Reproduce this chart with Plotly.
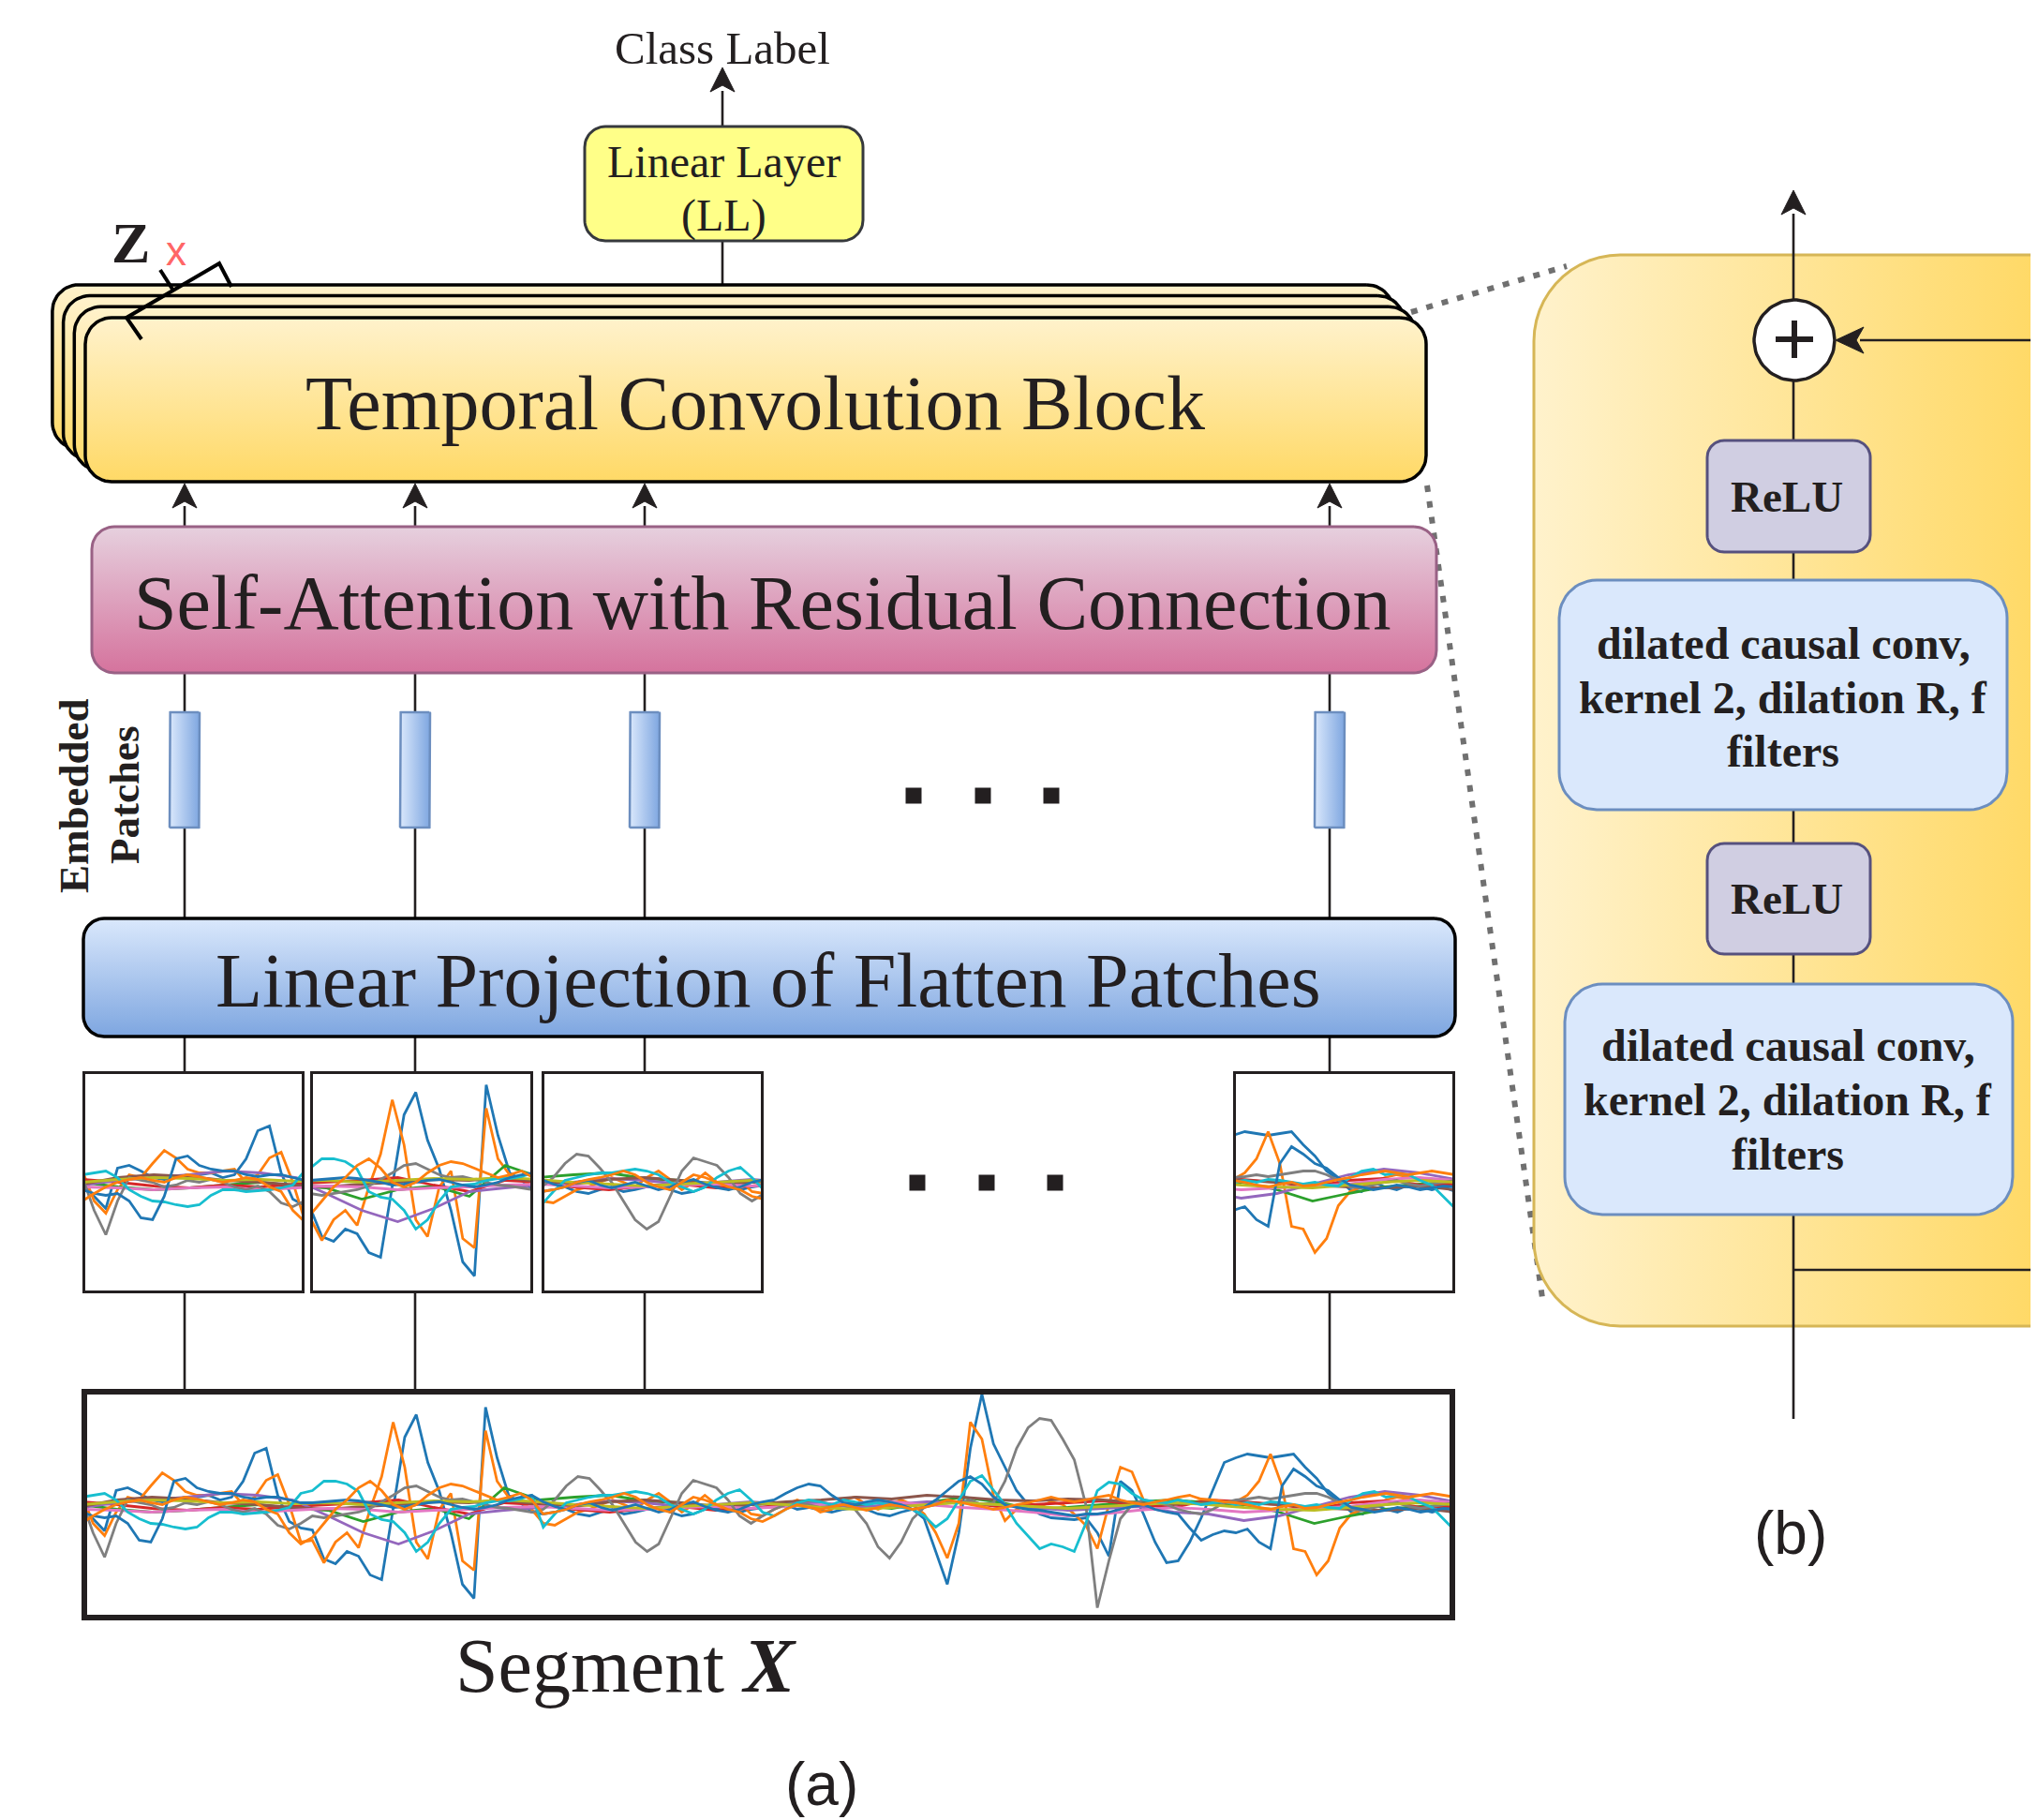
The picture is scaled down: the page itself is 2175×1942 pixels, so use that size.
import numpy as np
import plotly.graph_objects as go

W, H = 2175, 1942
OFF = 8  # the page body margin shifts the figure by 8 px; compensate in the coordinate frame

# ---------------- data: multichannel segment (values = pixel offset, + up) ----------------
blue_a = [0, -15, -28, 15, 18, 12, 5, 3, 5, 8, 8, 10, 5, 8, 25, 55, 60, 10, -18, -25,
          -27, -58, -63, -50, -55, -75, -80, -5, 72, 96, 45, 14, -30, -85, -100, 104, 50, 10, 2, -8,
          -10, -8, -5, -10, -12, -8, -5, -10, -8, -5, -3, -8, -12, -10, -5, -3, -5, -8, -5, -3,
          -2, 0, -5, -3, -6, -8, -5, -3, -5, -10, -12, -8, -5, -15, -50, -85, -30, 60, 118, 65,
          40, 15, 0, -10, -14, -15, -16, -14, -30, -55, 25, 15, -10, -40, -62, -60, -40, -14, 15, 45,
          50, 54, 52, 50, 52, 54, 40, 28, 12, 3, -8, -10, 0, -5, -8, -3, -5, -8, -5, -10]
blue_b = [-8, -12, -14, -12, -20, -38, -40, -15, 25, 28, 18, 14, 12, 12, 8, 6, 8, 8, 5, 2,
          2, 3, 4, 5, 4, 2, 0, -3, -2, 0, 2, 3, 0, -3, -5, -3, 0, 5, 8, 10,
          3, -2, -5, 0, 2, -3, -6, -3, 0, -4, -8, -5, 0, 3, -2, -6, -8, -5, 0, 3,
          5, 12, 18, 22, 20, 10, 2, 0, 3, 5, 3, 0, -5, -3, 5, 15, 25, 30, 22, 8,
          0, -3, -5, -6, -8, -10, -12, -10, -10, -8, -5, -2, 0, -5, -8, -10, -25, -38, -32, -28,
          -30, -26, -40, -47, 20, 38, 30, 20, 15, 5, -3, -5, -8, -6, -3, -5, -8, -6, -4, -5]
orange_a = [12, -20, -33, -8, 8, 5, 20, 34, 26, 14, 10, 10, 12, 14, 0, 8, 26, 32, 0, -40,
            -38, -62, -40, -30, -46, -5, 30, 88, 40, -40, -58, -5, 12, -60, -70, 79, 25, 8, 3, -5,
            -20, -22, -15, -8, -5, 0, 5, 0, -5, 5, 12, 3, -8, 0, 10, 0, -8, 2, -10, -12,
            -5, 0, 5, 0, -8, -5, 5, 8, 0, -5, 0, 5, 0, -10, -30, -57, -20, 88, 70, 10,
            -17, -5, 0, -2, 3, 0, -10, -22, -47, 0, 40, 35, 5, 0, 3, 5, 2, 4, 2, 3,
            3, 10, 25, 54, 20, -47, -50, -75, -60, -25, -10, -5, 0, 5, 8, 6, 4, 3, 3, 3]
orange_b = [-20, -12, -5, 0, 3, 5, 2, 0, 5, 8, 6, 3, 0, 2, 5, 3, -5, -10, -30, -42,
            -35, -20, -5, 5, 18, 25, 15, 0, -5, 0, 10, 18, 22, 20, 15, 10, 5, 8, 12, 5,
            -10, -8, -5, 0, 3, 5, 8, 12, 8, 0, -5, -8, 0, 8, 5, 0, -5, -8, -15, -18,
            -12, -5, 0, -3, -5, -2, 0, -3, -6, -3, 0, -2, -5, -3, 0, 5, 3, 0, -2, -5,
            -3, 0, 2, 5, 8, 5, 3, 5, 8, 10, 5, 2, 0, 3, 5, 8, 10, 6, 5, 3,
            2, 0, -3, -5, -2, 0, -4, -3, 0, 3, 5, 8, 10, 12, 10, 8, 10, 12, 10, 8]
gray = [5, -30, -56, -20, 5, 2, 0, -5, -3, 2, 0, 3, 0, -5, -8, -4, -10, -22, -26, -20,
        -12, -14, -12, -10, -8, -4, 3, 10, 18, 20, 14, 8, 5, 6, 3, 0, -3, -4, -6, -8,
        -5, 5, 20, 30, 28, 15, 0, -20, -40, -50, -42, -15, 12, 26, 22, 18, 5, -12, -20, -12,
        -5, 0, 2, 0, -3, -2, 0, -5, -20, -45, -57, -40, -15, -3, 0, 3, 2, 5, 0, 2,
        25, 60, 82, 92, 90, 70, 48, 0, -110, -60, -15, 0, 5, 3, 0, -5, -8, -10, -5, 2,
        5, 6, 8, 6, 8, 10, 12, 12, 8, 2, -5, -6, -3, 0, 2, -2, -4, -2, 0, 2]
cyan = [8, 10, 12, 5, -8, -15, -20, -21, -24, -26, -24, -14, -8, -8, -10, -9, -8, -6, -3, 12,
        15, 25, 25, 22, 14, -10, -16, -18, -30, -50, -40, -20, -5, -3, -2, 2, 4, 4, 6, 10,
        -24, -10, 2, 5, 8, 10, 10, 12, 14, 12, 8, 0, -5, -10, -5, 5, 12, 16, 5, -8,
        -12, -5, 2, 5, 3, 0, 5, 3, 0, 2, 0, -3, -5, -12, -24, -15, 5, 25, 31, 15,
        0, -20, -33, -47, -42, -45, -50, -20, 15, 24, 22, 12, 5, 3, 2, 5, 3, 0, 2, 3,
        0, 2, 0, 3, 2, 0, -2, 0, -3, -4, 5, 12, 14, 8, 10, 8, 2, -3, -15, -28]
# low-amplitude channels, sampled more coarsely (40 samples over the same span)
green = [0, -5, -8, -6, -3, 0, -4, -6, -18, -8, -4, -15, 18, 5, 8, 10, 4, 2, -2, 0,
         2, -3, 0, -4, 2, 8, 3, -5, -3, 0, 3, 5, 2, 0, -8, -20, -12, -5, -2, 0]
red = [3, 0, -4, -6, -3, -5, -2, 0, 2, 5, -3, -10, 2, 0, -5, -8, -4, -2, -6, -4,
       0, 2, -3, -1, 0, 3, -2, 0, 2, 4, 0, -3, 5, 3, 0, -5, 2, 4, -3, -2]
purple = [-3, 2, 5, 8, 12, 10, 5, -12, -30, -42, -28, -10, -6, -3, 0, 4, 2, -2, 0, 3,
          0, 2, -3, 0, 3, 2, 0, -3, -6, -4, -2, -8, -10, -17, -12, -2, 8, 14, 10, 3]
brown = [-2, 5, 8, 6, 2, 0, -3, -5, -2, 0, 3, 2, 5, 0, -2, 3, 5, 2, -2, 0,
         3, 5, 8, 6, 10, 8, 5, 4, 6, 5, 2, 0, 3, 2, 0, -3, -5, -6, -4, -8]
pink = [-5, -6, -8, -6, -5, -8, -6, -4, -5, -8, -6, -5, -3, -2, -4, -6, -5, -3, -2, -4,
        -2, 0, 2, 3, 0, -3, -5, -8, -12, -10, -6, -3, -5, -8, -6, -4, -2, 3, 5, 2]
olive = [0, 3, 5, 4, 2, 3, 1, 2, 0, 2, 4, 3, 5, 3, 0, -2, -4, -2, 0, 2,
         0, -3, -5, -3, 0, 2, 0, -2, -4, -2, 0, 2, 0, -3, -5, -6, -3, 0, 2, 0]

channels = [  # (values, colour) in drawing order
    (blue_a, "#1f77b4"), (orange_a, "#ff7f0e"), (green, "#2ca02c"), (red, "#d62728"),
    (purple, "#9467bd"), (brown, "#8c564b"), (pink, "#e377c2"), (gray, "#7f7f7f"),
    (olive, "#bcbd22"), (cyan, "#17becf"), (blue_b, "#1f77b4"), (orange_b, "#ff7f0e"),
]
SPAN = 119  # sample index range 0..119 ; six patches of 20 samples
patch_ranges = [(0, 19), (20, 39), (40, 59), (100, 119)]

# ---------------- helpers ----------------
fig = go.Figure()
INK = "#231F20"


def rrect_pts(x0, y0, x1, y1, r, n=14):
    xs, ys = [], []
    for cx, cy, a0 in [(x1 - r, y0 + r, -90), (x1 - r, y1 - r, 0), (x0 + r, y1 - r, 90), (x0 + r, y0 + r, 180)]:
        t = np.radians(np.linspace(a0, a0 + 90, n))
        xs += list(cx + r * np.cos(t))
        ys += list(cy + r * np.sin(t))
    xs.append(xs[0]); ys.append(ys[0])
    return xs, ys


def box(x0, y0, x1, y1, r, line, lw, fill=None, grad=None):
    xs, ys = rrect_pts(x0, y0, x1, y1, r)
    kw = dict(x=xs, y=ys, mode="lines", fill="toself", line=dict(color=line, width=lw),
              hoverinfo="skip", showlegend=False, xaxis="x", yaxis="y")
    if grad is not None:
        kind, c0, c1 = grad
        if kind == "v":
            kw["fillgradient"] = dict(type="vertical", colorscale=[[0, c0], [1, c1]], start=y0, stop=y1)
        else:
            kw["fillgradient"] = dict(type="horizontal", colorscale=[[0, c0], [1, c1]],
                                      start=x0, stop=min(x1, W))
    else:
        kw["fillcolor"] = fill
    fig.add_trace(go.Scatter(**kw))


def seg(x0, y0, x1, y1, color=INK, width=2.6, dash=None):
    fig.add_trace(go.Scatter(x=[x0, x1], y=[y0, y1], mode="lines",
                             line=dict(color=color, width=width, dash=dash),
                             hoverinfo="skip", showlegend=False, xaxis="x", yaxis="y"))


def poly(xs, ys, color, width=2.6):
    fig.add_trace(go.Scatter(x=xs, y=ys, mode="lines", line=dict(color=color, width=width),
                             hoverinfo="skip", showlegend=False, xaxis="x", yaxis="y"))


def head(tx, ty, dx, dy, L=26, Wd=13, notch=7):
    nx, ny = -dy, dx
    bx, by = tx - L * dx, ty - L * dy
    mx, my = tx - (L - notch) * dx, ty - (L - notch) * dy
    xs = [tx, bx + Wd * nx, mx, bx - Wd * nx, tx]
    ys = [ty, by + Wd * ny, my, by - Wd * ny, ty]
    fig.add_trace(go.Scatter(x=xs, y=ys, mode="lines", fill="toself", fillcolor=INK,
                             line=dict(color=INK, width=1), hoverinfo="skip",
                             showlegend=False, xaxis="x", yaxis="y"))


# ---------------- zoom (dotted) lines ----------------
seg(1506, 333, 1672, 284, color="#707070", width=6, dash="7px,10px")
seg(1523, 518, 1647, 1392, color="#707070", width=6, dash="7px,10px")

# ---------------- (b) residual block ----------------
box(1637, 272, 2262, 1415, 92, "#D6B656", 3, grad=("h", "#FFF2CC", "#FFD966"))
BX = 1914
seg(BX, 228, BX, 1514)
seg(1985, 363, 2200, 363)
seg(BX, 1355, 2200, 1355)
box(1822, 470, 1996, 589, 18, "#56517E", 3, fill="#D0CEE2")
box(1664, 619, 2142, 864, 40, "#6C8EBF", 3, fill="#DAE8FC")
box(1822, 900, 1996, 1018, 18, "#56517E", 3, fill="#D0CEE2")
box(1670, 1050, 2148, 1296, 40, "#6C8EBF", 3, fill="#DAE8FC")
t = np.linspace(0, 2 * np.pi, 80)
fig.add_trace(go.Scatter(x=1915 + 43 * np.cos(t), y=363 + 43 * np.sin(t), mode="lines", fill="toself",
                         fillcolor="white", line=dict(color=INK, width=3.5), hoverinfo="skip",
                         showlegend=False, xaxis="x", yaxis="y"))
seg(1895, 362, 1935, 362, width=6)
seg(1915, 342, 1915, 382, width=6)
head(BX, 203, 0, -1)
head(1959, 363, -1, 0, L=30, Wd=14, notch=8)

# ---------------- (a) connection lines ----------------
cols = [197, 443, 688, 1419]
for cx in cols:
    seg(cx, 718, cx, 980)     # SA bottom -> LP top (through embedded patches)
    seg(cx, 1106, cx, 1143)   # LP -> patch
    seg(cx, 1380, cx, 1482)   # patch -> segment
    seg(cx, 540, cx, 562)     # SA -> TCB
seg(771, 257, 771, 305)
seg(771, 97, 771, 135)

# Temporal convolution block stack (back to front)
for k in (3, 2, 1, 0):
    d = 11.7 * k
    box(91 - d, 339 - d, 1522 - d, 514 - d, 28, "#000000", 3.5, grad=("v", "#FFF2CC", "#FFD966"))
box(98, 562, 1533, 718, 24, "#996185", 3, grad=("v", "#E6D0DE", "#D5739D"))
box(89, 980, 1553, 1106, 22, "#000000", 3.5, grad=("v", "#DAE8FC", "#7EA6E0"))
box(624, 135, 921, 257, 22, "#36393D", 3, fill="#FFFF88")
for cx in cols:
    box(cx - 16, 760, cx + 16, 883, 1, "#6C8EBF", 2.5, grad=("h", "#DAE8FC", "#7EA6E0"))
for cx in cols:
    head(cx, 516, 0, -1)
head(771, 72, 0, -1)

# Z bracket
poly([151, 135, 234, 247], [362, 339, 281, 306], "#000000", width=4)
poly([171, 185], [288, 310], "#000000", width=4)

# ellipsis squares
fig.add_trace(go.Scatter(x=[975, 1049, 1122, 979, 1053, 1126], y=[849, 849, 849, 1262, 1262, 1262],
                         mode="markers", marker=dict(symbol="square", size=17, color=INK),
                         hoverinfo="skip", showlegend=False, xaxis="x", yaxis="y"))

# ---------------- signal panels ----------------
panels = [  # (x0, y0, x1, y1, xrange, half-height)
    (87, 1482, 1553, 1729, (0, SPAN), 123.5),
    (88, 1143, 325, 1380, patch_ranges[0], 118.5),
    (331, 1143, 569, 1380, patch_ranges[1], 118.5),
    (578, 1143, 815, 1380, patch_ranges[2], 118.5),
    (1316, 1143, 1553, 1380, patch_ranges[3], 118.5),
]
layout_axes = {}
for n, (x0, y0, x1, y1, xr, hh) in enumerate(panels, start=2):
    for vals, colr in channels:
        xs = np.linspace(0, SPAN, len(vals))
        fig.add_trace(go.Scatter(x=xs, y=vals, mode="lines", line=dict(color=colr, width=2.8),
                                 hoverinfo="skip", showlegend=False, xaxis=f"x{n}", yaxis=f"y{n}"))
    layout_axes[f"xaxis{n}"] = dict(domain=[(x0 - OFF) / W, (x1 - OFF) / W], range=list(xr),
                                    visible=False, anchor=f"y{n}", fixedrange=True)
    layout_axes[f"yaxis{n}"] = dict(domain=[1 - (y1 - OFF) / H, 1 - (y0 - OFF) / H], range=[-hh, hh],
                                    visible=False, anchor=f"x{n}", fixedrange=True)

shapes = []
for i, (x0, y0, x1, y1, xr, hh) in enumerate(panels):
    lw = 6 if i == 0 else 3
    shapes.append(dict(type="rect", xref="x", yref="y", x0=x0 + lw / 2, x1=x1 - lw / 2,
                       y0=y0 + lw / 2, y1=y1 - lw / 2, line=dict(color=INK, width=lw), layer="above"))

# ---------------- text ----------------
SERIF = "Liberation Serif, Times New Roman, serif"
SANS = "Liberation Sans, Arial, sans-serif"
ann = []


def txt(x, y, s, size, fam=SERIF, color=INK, angle=0):
    ann.append(dict(x=x, y=y, xref="x", yref="y", text=s, showarrow=False, textangle=angle,
                    font=dict(family=fam, size=size, color=color), xanchor="center", yanchor="middle"))


txt(771, 51, "Class Label", 49)
txt(772, 172, "Linear Layer", 48)
txt(772, 230, "(LL)", 48)
txt(806, 430, "Temporal Convolution Block", 82)
txt(813, 643, "Self-Attention with Residual Connection", 82)
txt(820, 1046, "Linear Projection of Flatten Patches", 82)
txt(668, 1777, "Segment <b><i>X</i></b>", 82)
txt(79, 849, "<b>Embedded</b>", 45, angle=-90)
txt(133, 849, "<b>Patches</b>", 45, angle=-90)
txt(139, 259, "<b>Z</b>", 62)
txt(188, 267, "x", 44, fam=SANS, color="#FF6666")
txt(1907, 530, "<b>ReLU</b>", 47)
txt(1907, 959, "<b>ReLU</b>", 47)
for yy, s in zip([686, 744, 801], ["dilated causal conv,", "kernel 2, dilation R, f", "filters"]):
    txt(1903, yy, "<b>" + s + "</b>", 48)
for yy, s in zip([1115, 1173, 1231], ["dilated causal conv,", "kernel 2, dilation R, f", "filters"]):
    txt(1908, yy, "<b>" + s + "</b>", 48)
txt(877, 1904, "(a)", 64, fam=SANS)
txt(1911, 1636, "(b)", 64, fam=SANS)

fig.update_layout(
    width=W, height=H, margin=dict(l=0, r=0, t=0, b=0),
    paper_bgcolor="white", plot_bgcolor="rgba(0,0,0,0)",
    xaxis=dict(range=[OFF, W + OFF], domain=[0, 1], visible=False, fixedrange=True),
    yaxis=dict(range=[H + OFF, OFF], domain=[0, 1], visible=False, fixedrange=True),
    shapes=shapes, annotations=ann, showlegend=False,
    **layout_axes,
)
fig.write_html("out.html", config={"displayModeBar": False})
